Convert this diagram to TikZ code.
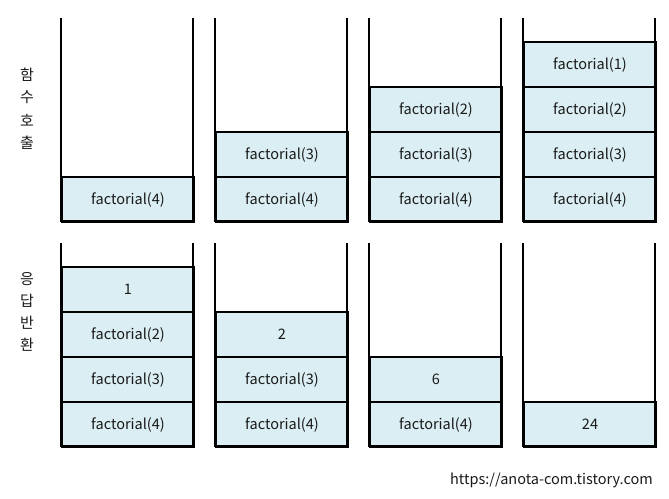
\documentclass[tikz,border=0pt]{standalone}
\usepackage{fontspec}
\setmainfont{Noto Sans CJK KR}
\definecolor{cellblue}{HTML}{DAEEF3}
\definecolor{txt}{HTML}{1A1A1A}
\begin{document}
\begin{tikzpicture}[x=1pt,y=-1pt,
  cellbox/.style={draw=black, fill=cellblue, line width=2pt, minimum width=132pt, minimum height=45pt, inner sep=0pt, anchor=north west, font=\fontsize{14.5}{16}\selectfont, text=txt},
  wall/.style={draw=black, line width=2pt, line join=miter},
  vlabel/.style={font=\fontsize{15}{16}\selectfont, inner sep=0pt, text=txt}]
\useasboundingbox (0,0) rectangle (669,498);
% ---- top row: function calls ----
\foreach \i/\n in {0/1,1/2,2/3,3/4}{
  \pgfmathsetmacro{\xo}{61+154*\i}
  \foreach \k in {1,...,\n}{
    \pgfmathtruncatemacro{\arg}{5-\k}
    \node[cellbox] (c\i-\k) at (\xo,{221-45*\k}) {factorial(\arg)};
  }
  \draw[wall] (\xo,18) -- (\xo,221) -- ({\xo+132},221) -- ({\xo+132},18);
}
% ---- bottom row: returns ----
\node[cellbox] (r0-1) at (61,401) {factorial(4)};
\node[cellbox] (r0-2) at (61,356) {factorial(3)};
\node[cellbox] (r0-3) at (61,311) {factorial(2)};
\node[cellbox] (r0-4) at (61,266) {1};
\node[cellbox] (r1-1) at (215,401) {factorial(4)};
\node[cellbox] (r1-2) at (215,356) {factorial(3)};
\node[cellbox] (r1-3) at (215,311) {2};
\node[cellbox] (r2-1) at (369,401) {factorial(4)};
\node[cellbox] (r2-2) at (369,356) {6};
\node[cellbox] (r3-1) at (523,401) {24};
\foreach \i in {0,1,2,3}{
  \pgfmathsetmacro{\xo}{61+154*\i}
  \draw[wall] (\xo,243) -- (\xo,446) -- ({\xo+132},446) -- ({\xo+132},243);
}
% ---- side labels ----
\node[vlabel] (l1) at (27,75) {함};
\node[vlabel] (l2) at (27,97) {수};
\node[vlabel] (l3) at (27,120) {호};
\node[vlabel] (l4) at (27,143) {출};
\node[vlabel] (m1) at (27,279) {응};
\node[vlabel] (m2) at (27,301) {답};
\node[vlabel] (m3) at (27,323) {반};
\node[vlabel] (m4) at (27,345) {환};
\node[font=\fontsize{14.5}{16}\selectfont, text=txt, anchor=east, inner sep=0pt] (url) at (653,480) {https://anota-com.tistory.com};
\end{tikzpicture}
\end{document}
